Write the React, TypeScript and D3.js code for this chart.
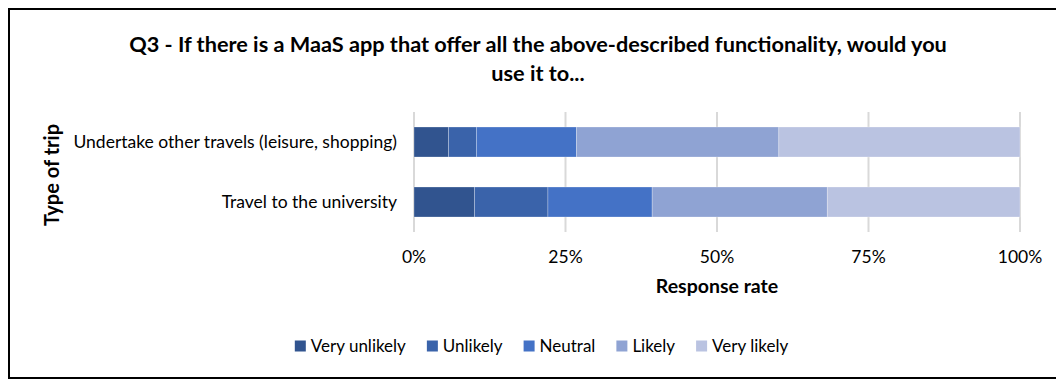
import React, { useEffect, useRef } from "react";
import * as d3 from "d3";

const categories = ["Undertake other travels (leisure, shopping)", "Travel to the university"];
const seriesNames = ["Very unlikely", "Unlikely", "Neutral", "Likely", "Very likely"];
const seriesColors = ["#31548F", "#3A63AA", "#4472C6", "#8FA3D3", "#BAC3E1"];
const veryUnlikely = [5.7, 10.0];
const unlikely = [4.6, 12.1];
const neutral = [16.5, 17.2];
const likely = [33.4, 28.9];
const veryLikely = [39.8, 31.8];
const tickValues = [0, 0.25, 0.5, 0.75, 1];
const titleLines = [
  "Q3 - If there is a MaaS app that offer all the above-described functionality, would you",
  "use it to...",
];

const FONT = "Lato, 'Open Sans', sans-serif";

export default function App() {
  const ref = useRef<SVGSVGElement>(null);

  useEffect(() => {
    const svg = d3.select(ref.current);
    svg.selectAll("*").remove();

    const x0 = 414, x1 = 1020;
    const plotTop = 112, plotBottom = 232;

    svg.append("rect").attr("x", 0).attr("y", 0).attr("width", 1056).attr("height", 380).attr("fill", "#fff");
    svg.append("rect").attr("x", 9).attr("y", 9).attr("width", 1070).attr("height", 369)
      .attr("fill", "none").attr("stroke", "#000").attr("stroke-width", 2);

    // title
    const title = svg.append("text").attr("text-anchor", "middle")
      .attr("font-family", FONT).attr("font-weight", "bold").attr("font-size", 21.7).attr("fill", "#000");
    titleLines.forEach((t, i) => {
      title.append("tspan").attr("x", 538).attr("y", 52 + i * 29).text(t);
    });

    const x = d3.scaleLinear().domain([0, 1]).range([x0, x1]);
    const y = d3.scaleBand().domain(categories).range([plotTop, plotBottom]).paddingInner(0.5).paddingOuter(0.25);

    // gridlines
    svg.append("g").selectAll("line").data(tickValues).join("line")
      .attr("x1", (d) => x(d)).attr("x2", (d) => x(d))
      .attr("y1", plotTop).attr("y2", plotBottom)
      .attr("stroke", "#d9d9d9").attr("stroke-width", 2);

    // stacked data
    const table = categories.map((c, i) => {
      const vals = [veryUnlikely[i], unlikely[i], neutral[i], likely[i], veryLikely[i]];
      const total = d3.sum(vals);
      const row: any = { cat: c };
      seriesNames.forEach((s, j) => (row[s] = vals[j] / total));
      return row;
    });
    const stack = d3.stack().keys(seriesNames)(table as any);

    const g = svg.append("g");
    stack.forEach((layer, li) => {
      g.selectAll(null).data(layer).join("rect")
        .attr("x", (d: any) => x(d[0]))
        .attr("width", (d: any) => x(d[1]) - x(d[0]))
        .attr("y", (d: any) => y(d.data.cat)!)
        .attr("height", y.bandwidth())
        .attr("fill", seriesColors[li])
        .attr("stroke", "#ffffff").attr("stroke-opacity", 0.35).attr("stroke-width", 0.75);
    });

    // category labels
    svg.append("g").selectAll("text").data(categories).join("text")
      .attr("x", 397).attr("y", (d) => y(d)! + y.bandwidth() / 2)
      .attr("dy", "0.35em").attr("text-anchor", "end")
      .attr("font-family", FONT).attr("font-size", 17.5).attr("fill", "#000").text((d) => d);

    // tick labels
    svg.append("g").selectAll("text").data(tickValues).join("text")
      .attr("x", (d) => x(d)).attr("y", 257).attr("dy", "0.35em").attr("text-anchor", "middle")
      .attr("font-family", FONT).attr("font-size", 17.5).attr("fill", "#000")
      .text((d) => d3.format(".0%")(d));

    // axis titles
    svg.append("text").attr("x", x((0 + 1) / 2)).attr("y", 286).attr("dy", "0.35em")
      .attr("text-anchor", "middle").attr("font-family", FONT).attr("font-weight", "bold")
      .attr("font-size", 19.5).attr("fill", "#000").text("Response rate");
    svg.append("text").attr("transform", "translate(52,175) rotate(-90)").attr("dy", "0.35em")
      .attr("text-anchor", "middle").attr("font-family", FONT).attr("font-weight", "bold")
      .attr("font-size", 20).attr("fill", "#000").text("Type of trip");

    // legend
    const leg = svg.append("g");
    const items = seriesNames.map((s, i) => {
      const it = leg.append("g");
      it.append("rect").attr("width", 11).attr("height", 11).attr("y", -5.5).attr("fill", seriesColors[i]);
      const t = it.append("text").attr("x", 16).attr("dy", "0.35em").attr("font-family", FONT)
        .attr("font-size", 17).attr("fill", "#000").text(s);
      const w = 16 + (t.node() as SVGTextElement).getComputedTextLength();
      return { it, w };
    });
    const gap = 21;
    const total = d3.sum(items, (d) => d.w) + gap * (items.length - 1);
    let cx = 541.5 - total / 2;
    items.forEach(({ it, w }) => {
      it.attr("transform", `translate(${cx},346)`);
      cx += w + gap;
    });
  }, []);

  return (
    <svg ref={ref} width={1056} height={380}
      style={{ position: "absolute", left: 0, top: 0, display: "block" }} />
  );
}
